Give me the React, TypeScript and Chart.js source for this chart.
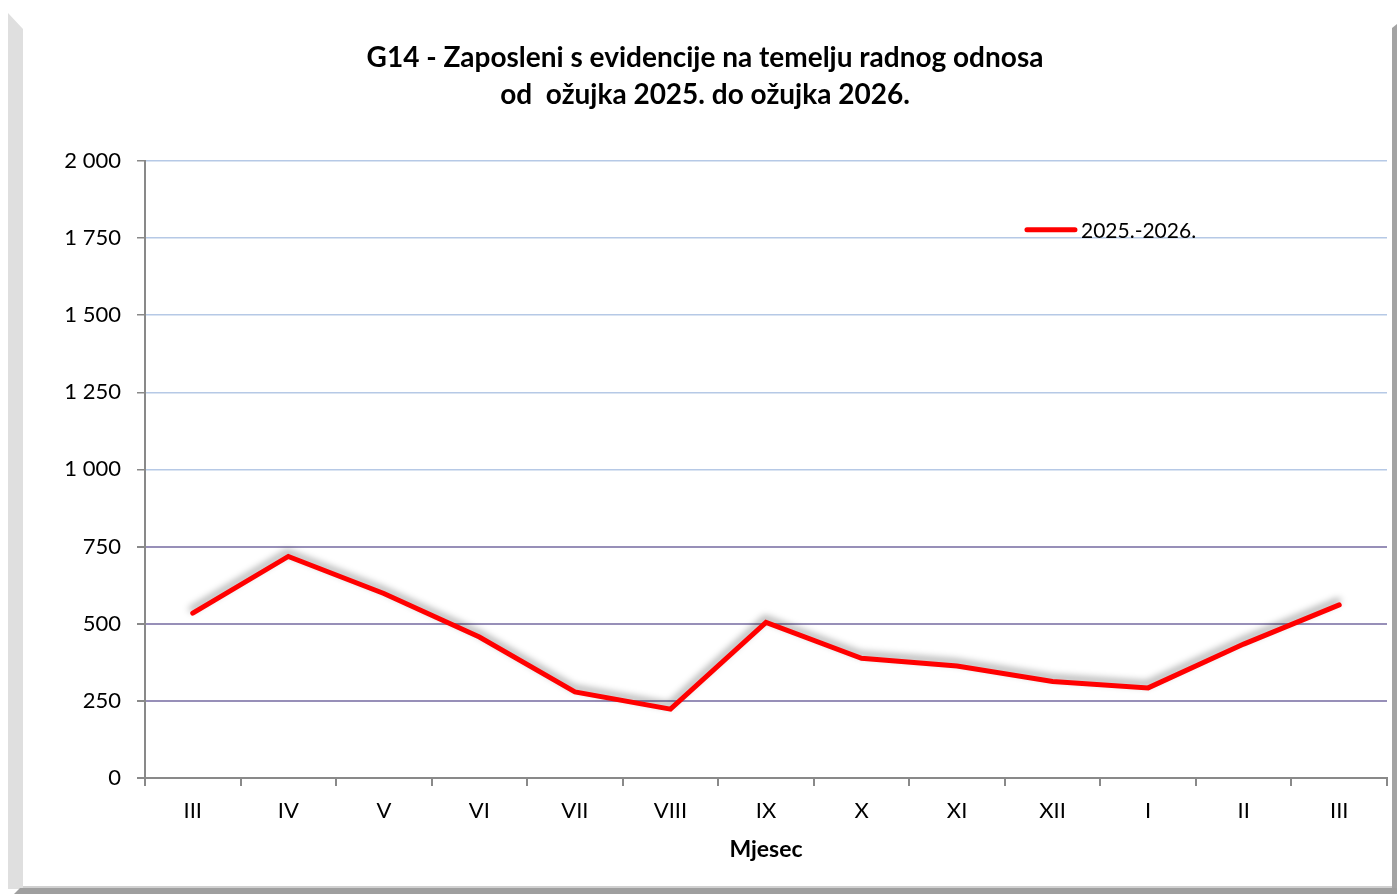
import React, { useEffect, useRef } from "react";
import { Chart, registerables } from "chart.js";

Chart.register(...registerables);

const categories = ["III", "IV", "V", "VI", "VII", "VIII", "IX", "X", "XI", "XII", "I", "II", "III"];
const seriesValues = [534, 718, 598, 457, 279, 223, 504, 388, 363, 313, 292, 434, 561];
const seriesLabel = "2025.-2026.";
const titleLines = ["G14 - Zaposleni s evidencije na temelju radnog odnosa", "od  ožujka 2025. do ožujka 2026."];
const xAxisTitle = "Mjesec";
const yMin = 0;
const yMax = 2000;
const yStep = 250;

const FONT = "Lato, 'Open Sans', sans-serif";

const shadowPlugin = {
  id: "lineShadow",
  beforeDatasetDraw(chart: any) {
    const ctx = chart.ctx;
    ctx.save();
    ctx.shadowColor = "rgba(0,0,0,0.38)";
    ctx.shadowBlur = 7;
    ctx.shadowOffsetX = -1;
    ctx.shadowOffsetY = -4;
  },
  afterDatasetDraw(chart: any) {
    chart.ctx.restore();
  },
};

const customLegend = {
  id: "customLegend",
  afterDraw(chart: any) {
    const { ctx, chartArea } = chart;
    const ds = chart.data.datasets[0];
    const w = chartArea.right - chartArea.left;
    const h = chartArea.bottom - chartArea.top;
    const x0 = chartArea.left + 0.7085 * w;
    const y = chartArea.top + 0.1117 * h;
    ctx.save();
    ctx.strokeStyle = ds.borderColor;
    ctx.lineWidth = 5;
    ctx.lineCap = "round";
    ctx.beginPath();
    ctx.moveTo(x0 + 2, y);
    ctx.lineTo(x0 + 50, y);
    ctx.stroke();
    ctx.fillStyle = "#000";
    ctx.font = `21px ${FONT}`;
    ctx.textBaseline = "middle";
    ctx.textAlign = "left";
    ctx.fillText(ds.label, x0 + 56, y + 1);
    ctx.restore();
  },
};

function fmt(v: number) {
  return String(v).replace(/\B(?=(\d{3})+(?!\d))/g, " ");
}

export default function App() {
  const ref = useRef<HTMLCanvasElement | null>(null);

  useEffect(() => {
    if (!ref.current) return;
    const chart = new Chart(ref.current, {
      type: "line",
      data: {
        labels: categories,
        datasets: [
          {
            label: seriesLabel,
            data: seriesValues,
            borderColor: "#ff0000",
            backgroundColor: "#ff0000",
            borderWidth: 5,
            borderCapStyle: "round",
            borderJoinStyle: "miter",
            pointRadius: 0,
            pointHoverRadius: 0,
            tension: 0,
            fill: false,
          },
        ],
      },
      plugins: [shadowPlugin, customLegend],
      options: {
        responsive: false,
        animation: false,
        events: [],
        layout: { padding: { left: 0, right: 5, top: 0, bottom: 0 } },
        plugins: {
          legend: { display: false },
          tooltip: { enabled: false },
          title: {
            display: true,
            text: titleLines,
            color: "#000",
            font: { family: FONT, size: 28, weight: "bold", lineHeight: 1.3 },
            padding: { top: 40, bottom: 48 },
          },
        },
        scales: {
          x: {
            offset: true,
            grid: {
              offset: true,
              drawOnChartArea: false,
              drawTicks: true,
              tickLength: 8,
              color: "#898989",
              lineWidth: 2,
            },
            border: { display: true, color: "#898989", width: 2 },
            ticks: {
              color: "#000",
              font: { family: FONT, size: 22 },
              padding: 12,
              maxRotation: 0,
              autoSkip: false,
            },
            title: {
              display: true,
              text: xAxisTitle,
              color: "#000",
              font: { family: FONT, size: 23, weight: "bold" },
              padding: { top: 4, bottom: 25 },
            },
            afterFit(scale: any) {
              scale.height = 888 - 778;
            },
          },
          y: {
            min: yMin,
            max: yMax,
            grid: {
              drawTicks: true,
              tickLength: 8,
              tickColor: "#898989",
              color: (c: any) => {
                const v = c.tick ? c.tick.value : 0;
                if (v === 0) return "rgba(0,0,0,0)";
                return v >= 1000 ? "#b6c9e6" : "#978fb8";
              },
              lineWidth: (c: any) => {
                const v = c.tick ? c.tick.value : 0;
                return v >= 1000 ? 1.5 : 2;
              },
            },
            border: { display: true, color: "#898989", width: 2 },
            ticks: {
              stepSize: yStep,
              color: "#000",
              font: { family: FONT, size: 22 },
              padding: 16,
              callback: (v: any) => fmt(Number(v)),
            },
            afterFit(scale: any) {
              scale.width = 145 - 23;
            },
          },
        },
      },
    } as any);
    return () => chart.destroy();
  }, []);

  return (
    <div style={{ position: "absolute", left: 0, top: 0, width: 1397, height: 894, background: "#fff", overflow: "hidden" }}>
      <div style={{ position: "absolute", left: 8, top: 13, width: 15, height: 876, background: "#dfdfdf", clipPath: "polygon(0 0, 100% 16px, 100% 100%, 0 100%)" }} />
      <div style={{ position: "absolute", left: 23, top: 886, width: 1374, height: 2, background: "#d0d0d0" }} />
      <div style={{ position: "absolute", left: 14, top: 888, width: 1383, height: 6, background: "#9f9f9f", clipPath: "polygon(6px 0, 100% 0, 100% 100%, 0 100%)" }} />
      <div style={{ position: "absolute", left: 1392, top: 24, width: 5, height: 864, background: "#a3a3a3", clipPath: "polygon(0 4px, 100% 0, 100% 100%, 0 100%)" }} />
      <canvas ref={ref} width={1369} height={888} style={{ position: "absolute", left: 23, top: 0, width: 1369, height: 888 }} />
    </div>
  );
}
